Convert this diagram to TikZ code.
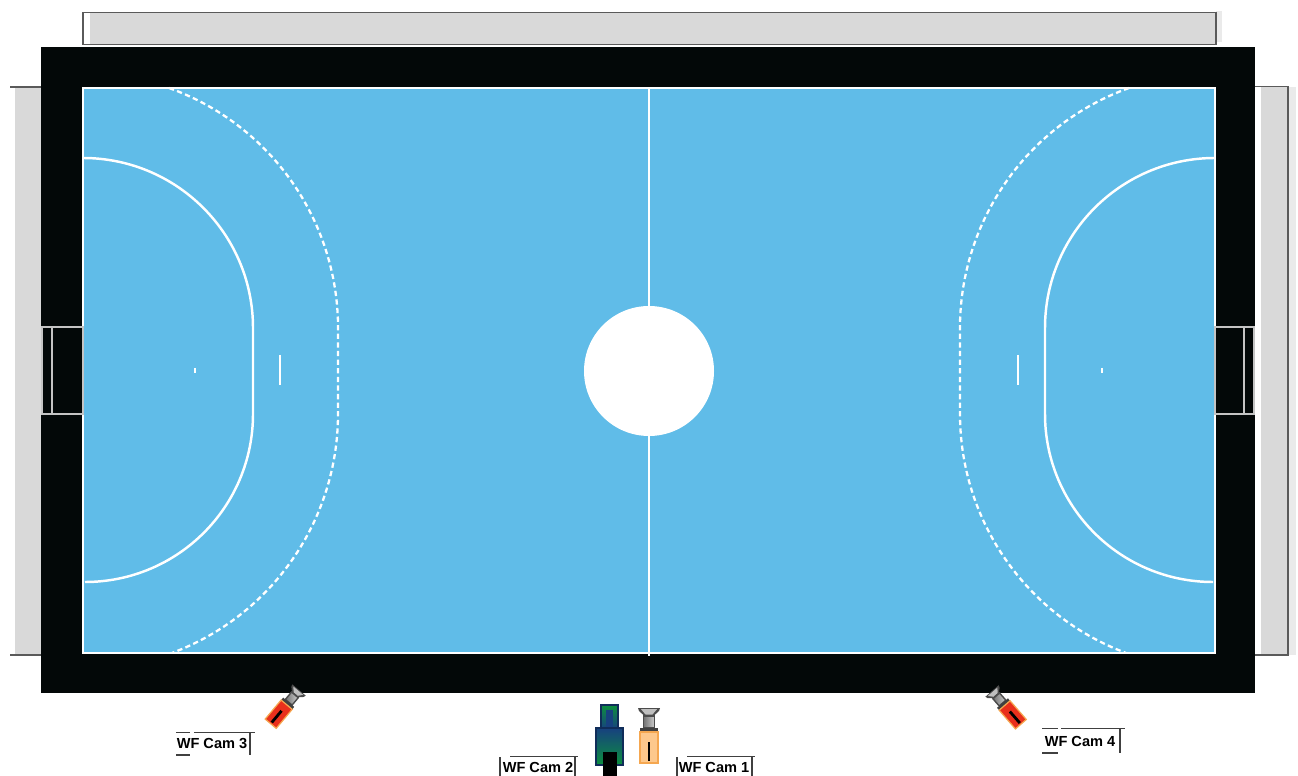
\documentclass[tikz,border=0pt]{standalone}
\usepackage{fontspec}
\setmainfont{Liberation Sans}
\definecolor{courtblue}{HTML}{60BCE8}
\definecolor{runoff}{HTML}{030808}
\definecolor{standgray}{HTML}{D9D9D9}
\definecolor{standline}{HTML}{5A5A5A}
\definecolor{goalline}{HTML}{C4C4C4}
\definecolor{camorange}{HTML}{FDC88C}
\definecolor{camred}{HTML}{E9301C}
\definecolor{camedge}{HTML}{F5A750}
\definecolor{camgreen}{HTML}{0C8F3E}
\definecolor{camblue}{HTML}{17417F}
\tikzset{
  stand/.style={fill=standgray, draw=none},
  standedge/.style={draw=standline, line width=.8},
  courtline/.style={draw=white, line width=1.4},
  freeline/.style={draw=white, line width=1.3, dash pattern=on 3 off 1.9},
  goal/.style={draw=goalline, line width=1},
  camlabel/.style={font=\bfseries\fontsize{8.3}{10}\selectfont, text=black, inner sep=0pt},
  tagline/.style={draw=black!75, line width=.7},
  pics/wfcam/.style={code={
    \fill[black!70] (-11,0) -- (11,0) -- (10,3) -- (4.5,8) -- (-4.5,8) -- (-10,3) -- cycle;
    \fill[white!75!black] (-8,1.2) -- (8,1.2) -- (3.5,6.5) -- (-3.5,6.5) -- cycle;
    \draw[black!70, line width=.8, left color=black!55, right color=black!20] (-5.5,8) rectangle (5.5,20);
    \fill[black!75] (-9,20) rectangle (9,24);
    \draw[camedge, line width=.7, fill=#1] (-9,24) rectangle (9,55);
    \draw[black, line width=1.6] (0,34) -- (0,53);
  }},
}
\begin{document}
\begin{tikzpicture}[x=0.02cm, y=-0.02cm]
  \useasboundingbox (0,0) rectangle (1298,776);
  % stands round the hall
  \fill[stand] (90,13) rectangle (1216,44);
  \fill[standgray!55] (1216,11) rectangle (1222,42);
  \draw[standedge] (83,45) -- (83,12.5) -- (1216,12.5) -- (1216,44.5) -- (83,44.5);
  \fill[stand] (15,88) rectangle (41,655);
  \draw[standedge] (10,87) -- (41,87) (10,655) -- (41,655);
  \fill[stand] (1261,87) rectangle (1288,655);
  \fill[standgray!55] (1288,87) rectangle (1296,655);
  \draw[standedge] (1255,86.5) -- (1288,86.5) -- (1288,655) -- (1255,655);
  % floor
  \fill[runoff] (41,47) rectangle (1255,693);
  \fill[courtblue] (83,88) rectangle (1215,653);
  \draw[draw=white, line width=.9] (83,88) rectangle (1215,653);
  % goals
  \draw[goal] (42,327) rectangle (83,414) (52,327) -- (52,414);
  \draw[goal] (1215,327) rectangle (1254,414) (1244,327) -- (1244,414);
  % markings
  \draw[courtline] (649,88) -- (649,656);
  \fill[white] (649,371) circle (65);
  \draw[courtline] (83,158) arc[start angle=-90, end angle=0, radius=170] -- (253,414) arc[start angle=0, end angle=90, radius=168];
  \draw[courtline] (1215,158) arc[start angle=-90, end angle=-180, radius=170] -- (1045,414) arc[start angle=180, end angle=90, radius=168];
  \draw[freeline] (169,88) arc[start angle=-70.3, end angle=0, radius=255] -- (338,414) arc[start angle=0, end angle=69.5, radius=255];
  \draw[freeline] (1129,88) arc[start angle=-109.7, end angle=-180, radius=255] -- (960,414) arc[start angle=180, end angle=110.5, radius=255];
  \draw[draw=white, line width=1] (280,355) -- (280,385) (1018,355) -- (1018,385);
  \draw[draw=white, line width=1.2] (195,368) -- (195,373) (1102,368) -- (1102,373);
  % cameras
  \pic[rotate=-40, scale=.8] (camc) at (299,690) {wfcam=camred};
  \pic[rotate=41, scale=.8] (camd) at (992,691) {wfcam=camred};
  \pic (cama) at (649,708) {wfcam=camorange};
  \draw[camblue!70!black, line width=1, top color=camgreen, bottom color=camblue] (601,705) rectangle (618,729);
  \fill[camblue] (606,710) rectangle (613,729);
  \draw[camblue!70!black, line width=.8, top color=camblue, bottom color=camgreen] (596,728) rectangle (623,765);
  \fill[black] (603,752) rectangle (617,776);
  % labels
  \node[camlabel] (lblc) at (212,743) {WF Cam 3};
  \node[camlabel] (lblb) at (538,767) {WF Cam 2};
  \node[camlabel] (lbla) at (714,767) {WF Cam 1};
  \node[camlabel] (lbld) at (1080,741) {WF Cam 4};
  \draw[tagline] (176,732.5) -- (190,732.5) (194,732.5) -- (255,732.5) (250,732.5) -- (250,755) (176,755) -- (190,755);
  \draw[tagline] (500,757) -- (500,776) (510,756.5) -- (578,756.5) (575,757) -- (575,776);
  \draw[tagline] (677,757) -- (677,776) (687,756.5) -- (755,756.5) (752,757) -- (752,776);
  \draw[tagline] (1042,728.5) -- (1058,728.5) (1061,728.5) -- (1125,728.5) (1120,728.5) -- (1120,753) (1042,753) -- (1058,753);
\end{tikzpicture}
\end{document}
